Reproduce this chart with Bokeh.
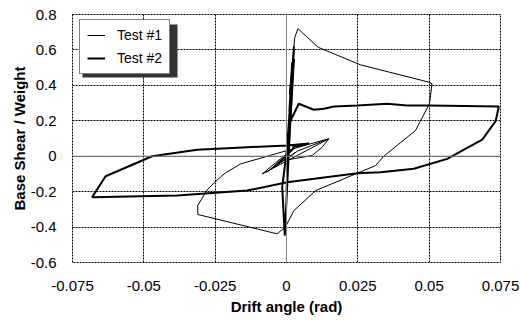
from bokeh.plotting import figure
from bokeh.models import Range1d, FixedTicker, Span, Legend, LegendItem, BoxAnnotation
from bokeh.embed import file_html
from bokeh.resources import INLINE

# Test #1 (thin line) drift angle (rad) and base shear / weight
test1_x = [0.0, 0.0015, -0.002, 0.0025, -0.004, 0.003, -0.006, 0.0035, -0.0085, 0.0148,
           0.0125, 0.009, 0.0005, 0.0015, 0.0028, 0.001, 0.0029, 0.004, 0.0111, 0.0259,
           0.0499, 0.051, 0.0501, 0.0452, 0.0341, 0.0312, 0.0248, 0.0102, 0.0026, -0.0004,
           -0.0033, -0.0311, -0.0311, -0.0278, -0.0252, -0.0214, -0.016, 0.0084, 0.0148,
           0.004, -0.007, 0.003]
test1_y = [0.0, 0.03, -0.03, 0.04, -0.06, 0.05, -0.08, 0.06, -0.1, 0.098,
           0.051, 0.004, -0.02, 0.2, 0.55, 0.35, 0.67, 0.72, 0.615, 0.516,
           0.418, 0.409, 0.296, 0.145, 0.0, -0.053, -0.096, -0.194, -0.307, -0.40,
           -0.438, -0.329, -0.278, -0.19, -0.147, -0.094, -0.043, 0.07, 0.098,
           0.03, -0.09, 0.02]

# Test #2 (thick line)
test2_x = [0.0, 0.0026, 0.001, 0.002, 0.0, 0.0026, -0.0006, -0.0015, 0.0014, 0.0043,
           0.0096, 0.0131, 0.0166, 0.0248, 0.0353, 0.0423, 0.0499, 0.0744, 0.0733, 0.0686,
           0.0563, 0.0446, 0.033, 0.0248, 0.0002, -0.0138, -0.0383, -0.0681, -0.0634, -0.0471,
           -0.0313, -0.0138, 0.0002, 0.008, 0.002]
test2_y = [0.0, 0.60, 0.25, 0.53, -0.2, 0.62, -0.448, -0.175, 0.2, 0.296,
           0.262, 0.268, 0.281, 0.286, 0.296, 0.286, 0.286, 0.281, 0.198, 0.094,
           -0.015, -0.071, -0.09, -0.096, -0.147, -0.194, -0.222, -0.231, -0.113, 0.0,
           0.036, 0.051, 0.06, 0.072, 0.05]

x_ticks = [-0.075, -0.05, -0.025, 0, 0.025, 0.05, 0.075]
x_labels = ["-0.075", "-0.05", "-0.025", "0", "0.025", "0.05", "0.075"]
y_ticks = [-0.6, -0.4, -0.2, 0, 0.2, 0.4, 0.6, 0.8]
y_labels = ["-0.6", "-0.4", "-0.2", "0", "0.2", "0.4", "0.6", "0.8"]

FONT = "Liberation Sans"

p = figure(frame_width=428, frame_height=248, output_backend="svg", toolbar_location=None,
           x_range=Range1d(-0.075, 0.075), y_range=Range1d(-0.6, 0.8),
           min_border_left=72, min_border_right=21, min_border_top=14, min_border_bottom=57,
           background_fill_color="white", border_fill_color="white")

p.outline_line_color = "black"
p.outline_line_dash = "2 1"
p.outline_line_width = 1

for ax in (p.xaxis, p.yaxis):
    ax.axis_line_color = None
    ax.major_tick_line_color = None
    ax.minor_tick_line_color = None
    ax.major_label_text_font = FONT
    ax.major_label_text_font_size = "15px"
    ax.major_label_text_color = "black"
    ax.axis_label_text_font = FONT
    ax.axis_label_text_font_size = "15px"
    ax.axis_label_text_font_style = "bold"
    ax.axis_label_text_color = "black"

p.xaxis.ticker = FixedTicker(ticks=x_ticks)
p.xaxis.major_label_overrides = {t: l for t, l in zip(x_ticks, x_labels)}
p.yaxis.ticker = FixedTicker(ticks=y_ticks)
p.yaxis.major_label_overrides = {t: l for t, l in zip(y_ticks, y_labels)}
p.xaxis.axis_label = "Drift angle (rad)"
p.yaxis.axis_label = "Base Shear / Weight"
p.xaxis.major_label_standoff = 12
p.xaxis.axis_label_standoff = 4
p.yaxis.major_label_standoff = 10
p.yaxis.axis_label_standoff = 0

for g in (p.xgrid, p.ygrid):
    g.grid_line_color = "black"
    g.grid_line_dash = "2 1"
    g.grid_line_width = 1

p.add_layout(Span(location=0, dimension="width", line_color="#808080", line_width=1))
p.add_layout(Span(location=0, dimension="height", line_color="#808080", line_width=1))

r1 = p.line(test1_x, test1_y, line_color="black", line_width=1)
r2 = p.line(test2_x, test2_y, line_color="black", line_width=2)

# drop shadow behind the legend box
shadow = BoxAnnotation(left=82, right=177, top=24, bottom=77,
                       left_units="canvas", right_units="canvas",
                       top_units="canvas", bottom_units="canvas",
                       fill_color="#333333", fill_alpha=1.0, line_color=None)
p.add_layout(shadow)

legend = Legend(items=[LegendItem(label="Test #1", renderers=[r1]),
                       LegendItem(label="Test #2", renderers=[r2])],
                location=(7, 188), padding=7, spacing=7,
                label_height=16, glyph_height=16, glyph_width=18, label_standoff=12,
                label_text_font=FONT, label_text_font_size="14px", label_text_color="black",
                border_line_color="black", border_line_width=1,
                background_fill_color="white", background_fill_alpha=1.0)
p.add_layout(legend)

open("out.html", "w").write(file_html(p, INLINE))
